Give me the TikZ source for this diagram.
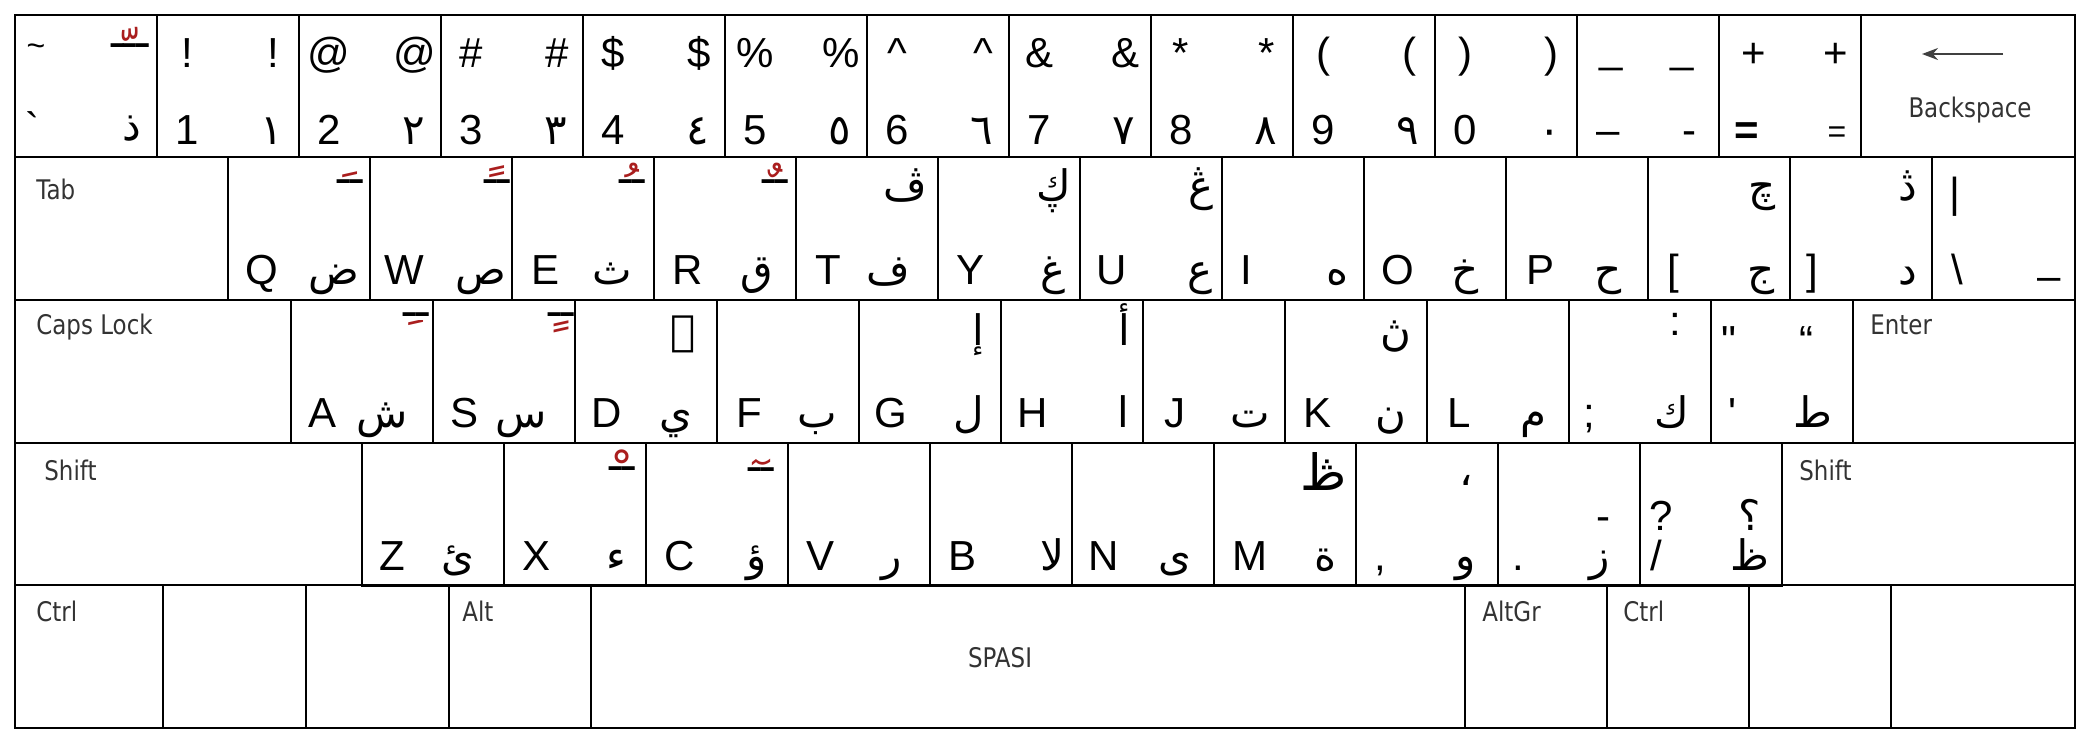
\documentclass[tikz,border=0pt]{standalone}
\usepackage{fontspec}
\setmainfont{Liberation Sans}
\newfontfamily\arabicfont[Script=Arabic]{DejaVu Sans}
\newfontfamily\labelfont[FakeStretch=0.85]{DejaVu Sans}
\usetikzlibrary{arrows.meta}
\TeXXeTstate=1
\definecolor{harred}{RGB}{170,30,30}
\newcommand\AR[1]{{\arabicfont\beginR #1\endR}}
\tikzset{
  keyline/.style={draw=black,line width=1.1pt},
  lat/.style={font=\fontsize{21}{21}\selectfont,anchor=base,inner sep=0pt},
  latsm/.style={font=\fontsize{16}{16}\selectfont,anchor=base,inner sep=0pt},
  arb/.style={font=\fontsize{21}{21}\selectfont\arabicfont,anchor=base,inner sep=0pt},
  keylab/.style={font=\fontsize{13.5}{13.5}\selectfont\labelfont,text=black!80,anchor=base west,inner sep=0pt},
  harakat/.style={font=\fontsize{26}{26}\selectfont\arabicfont,text=harred,anchor=base,inner sep=0pt},
  hbar/.style={font=\fontsize{21}{21}\selectfont\arabicfont,anchor=base,inner sep=0pt},
}
% key frame
\newcommand\KEY[4]{\draw[keyline] (#1,#2) rectangle ++(#3,#4);}
% red diacritic above a black tatweel: name, centre x, bar y, mark, tatweels
\newcommand\HARU[5]{%
  \begin{scope}
    \clip (#2-30,#3-46) rectangle (#2+30,#3-4);
    \node[harakat] (#1r) at (#2,#3+26) {\AR{ـ#4}};
  \end{scope}
  \node[hbar] (#1b) at (#2,#3+1) {\AR{#5}};}
% red diacritic below a black tatweel
\newcommand\HARD[5]{%
  \begin{scope}
    \clip (#2-30,#3+5) rectangle (#2+30,#3+40);
    \node[harakat] (#1r) at (#2,#3+3) {\AR{ـ#4}};
  \end{scope}
  \node[hbar] (#1b) at (#2,#3+1) {\AR{#5}};}
% number row key: name, left, tl, tr, bl, br
\newcommand\NK[6]{%
  \KEY{#2}{15}{142}{142}
  \node[lat] (#1tl) at (#2+30,67) {#3};
  \node[lat] (#1tr) at (#2+116,67) {#4};
  \node[lat] (#1bl) at (#2+30,144) {#5};
  \node[arb] (#1br) at (#2+115,144) {\AR{#6}};}
% letter key: name, left, top, bl offset, latin, br offset, arabic
\newcommand\LK[7]{%
  \KEY{#2}{#3}{142}{143}
  \node[lat] (#1bl) at (#2+#4,#3+127) {#5};
  \node[arb] (#1br) at (#2+#6,#3+127) {\AR{#7}};}
% top-right arabic: name, x, y, text
\newcommand\TA[4]{\node[arb] (#1) at (#2,#3) {\AR{#4}};}
\begin{document}
\begin{tikzpicture}[x=0.5pt,y=-0.5pt]
\fill[white] (0,0) rectangle (2094,740);
\useasboundingbox (0,0) rectangle (2094,740);
% ---------------- row 1
\KEY{15}{15}{142}{142}
\node[latsm] (gtl) at (36,56) {\textasciitilde};
\node[lat] (gbl) at (32,142) {\textasciigrave};
\node[arb] (gbr) at (132,140) {\AR{ذ}};
\HARU{g}{130}{46}{ّ}{ـــ}
\NK{n1}{157}{!}{!}{1}{١}
\NK{n2}{299}{@}{@}{2}{٢}
\NK{n3}{441}{\#}{\#}{3}{٣}
\NK{n4}{583}{\$}{\$}{4}{٤}
\NK{n5}{725}{\%}{\%}{5}{٥}
\NK{n6}{867}{\textasciicircum}{\textasciicircum}{6}{٦}
\NK{n7}{1009}{\&}{\&}{7}{٧}
\NK{n8}{1151}{*}{*}{8}{٨}
\NK{n9}{1293}{(}{(}{9}{٩}
\NK{n0}{1435}{)}{)}{0}{٠}
\KEY{1577}{15}{142}{142}
\node[lat] (mitl) at (1611,62) {\_};
\node[lat] (mitr) at (1682,62) {\_};
\node[lat] (mibl) at (1608,144) {–};
\node[lat] (mibr) at (1689,144) {-};
\KEY{1719}{15}{142}{142}
\node[lat] (eqtl) at (1754,67) {+};
\node[lat] (eqtr) at (1836,67) {+};
\node[lat] (eqbl) at (1747,144) {\textbf{=}};
\node[latsm] (eqbr) at (1837,142) {=};
\KEY{1861}{15}{214}{142}
\coordinate (bsa) at (2003,54);
\coordinate (bsb) at (1922,54);
\draw[line width=1pt,black!75,-{Stealth[length=8pt,width=6pt]}] (bsa) -- (bsb);
\node[keylab,anchor=base] (bstxt) at (1970,117) {Backspace};
% ---------------- row 2
\KEY{15}{157}{213}{143}
\node[keylab] (tab) at (36,199) {Tab};
\LK{q}{228}{157}{34}{Q}{106}{ض} \HARU{q}{350}{182}{َ}{ــ}
\LK{w}{370}{157}{34}{W}{111}{ص} \HARU{w}{497}{182}{ً}{ــ}
\LK{e}{512}{157}{34}{E}{100}{ث} \HARU{e}{632}{182}{ُ}{ــ}
\LK{r}{654}{157}{34}{R}{103}{ق} \HARU{r}{775}{182}{ٌ}{ــ}
\LK{t}{796}{157}{32}{T}{92}{ف} \TA{ttr}{905}{200}{ڤ}
\LK{y}{938}{157}{32}{Y}{115}{غ} \TA{ytr}{1054}{200}{ڮ}
\LK{u}{1080}{157}{32}{U}{120}{ع} \TA{utr}{1201}{200}{ڠ}
\LK{i}{1222}{157}{24}{I}{115}{ه}
\LK{o}{1364}{157}{34}{O}{101}{خ}
\LK{p}{1506}{157}{34}{P}{102}{ح}
\LK{lb}{1648}{157}{25}{[}{113}{ج} \TA{lbtr}{1762}{200}{چ}
\LK{rb}{1790}{157}{22}{]}{118}{د} \TA{rbtr}{1908}{200}{ڎ}
\KEY{1932}{157}{143}{143}
\node[lat] (bsltl) at (1955,207) {|};
\node[lat] (bslbl) at (1957,284) {\textbackslash};
\node[lat] (bslbr) at (2049,290) {–};
% ---------------- row 3
\KEY{15}{300}{276}{143}
\node[keylab] (caps) at (36,334) {Caps Lock};
\LK{a}{291}{300}{32}{A}{91}{ش} \HARD{a}{416}{315}{ِ}{ــ}
\LK{s}{433}{300}{32}{S}{88}{س} \HARD{s}{561}{315}{ٍ}{ــ}
\LK{d}{575}{300}{32}{D}{101}{ي} \TA{dtr}{683}{345}{ۑ}
\LK{f}{717}{300}{32}{F}{100}{ب}
\LK{g}{859}{300}{32}{G}{110}{ل} \TA{gtr}{978}{345}{إ}
\LK{h}{1001}{300}{32}{H}{122}{ا} \TA{htr}{1124}{345}{أ}
\LK{j}{1143}{300}{32}{J}{107}{ت}
\LK{k}{1285}{300}{32}{K}{106}{ن} \TA{ktr}{1396}{345}{ڽ}
\LK{l}{1427}{300}{32}{L}{106}{م}
\LK{sc}{1569}{300}{20}{;}{103}{ك}
\node[lat] (sctr) at (1675,335) {:};
\LK{ap}{1711}{300}{21}{\textquotesingle}{102}{ط}
\node[lat] (aptl) at (1729,355) {\textquotedbl};
\node[lat] (aptr) at (1806,355) {“};
\KEY{1853}{300}{222}{143}
\node[keylab] (enter) at (1870,334) {Enter};
% ---------------- row 4
\KEY{15}{443}{347}{142}
\node[keylab] (lshift) at (44,480) {Shift};
\LK{z}{362}{443}{30}{Z}{96}{ئ}
\LK{x}{504}{443}{33}{X}{112}{ء} \HARU{x}{622}{469}{ْ}{ــ}
\LK{c}{646}{443}{34}{C}{111}{ؤ} \HARU{c}{761}{470}{ٓ}{ــ}
\LK{v}{788}{443}{32}{V}{104}{ر}
\LK{b}{930}{443}{32}{B}{122}{لا}
\LK{n}{1072}{443}{32}{N}{103}{ى}
\LK{m}{1214}{443}{36}{M}{111}{ة}
\node[arb,font=\fontsize{25}{25}\selectfont\arabicfont] (mtr) at (1324,490) {\AR{ڟ}};
\LK{cm}{1356}{443}{24}{,}{110}{و} \TA{cmtr}{1466}{485}{،}
\LK{pd}{1498}{443}{20}{.}{102}{ز}
\node[lat] (pdtr) at (1603,530) {-};
\LK{sl}{1640}{443}{16}{/}{110}{ظ}
\node[lat] (sltl) at (1661,530) {?};
\TA{sltr}{1750}{530}{؟}
\KEY{1782}{443}{293}{142}
\node[keylab] (rshift) at (1799,480) {Shift};
% ---------------- row 5
\KEY{15}{585}{148}{143}
\KEY{163}{585}{143}{143}
\KEY{306}{585}{143}{143}
\KEY{449}{585}{142}{143}
\KEY{591}{585}{874}{143}
\KEY{1465}{585}{142}{143}
\KEY{1607}{585}{142}{143}
\KEY{1749}{585}{142}{143}
\KEY{1891}{585}{184}{143}
\node[keylab] (lctrl) at (36,621) {Ctrl};
\node[keylab] (alt) at (462,621) {Alt};
\node[keylab,anchor=base] (space) at (1000,667) {SPASI};
\node[keylab] (altgr) at (1482,621) {AltGr};
\node[keylab] (rctrl) at (1623,621) {Ctrl};
\draw[line width=1.4pt] (15,15) rectangle (2075,728);
\end{tikzpicture}
\end{document}
